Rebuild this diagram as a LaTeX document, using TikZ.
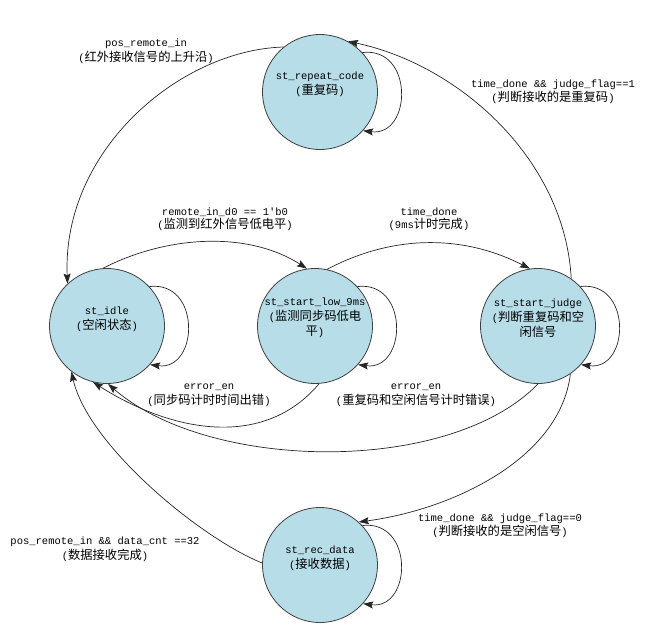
\documentclass[tikz,border=0pt]{standalone}
\usepackage{fontspec}
\setmonofont{Liberation Mono}
\newfontfamily\cjkfont{Noto Sans CJK SC}[Scale=1.17]
\newcommand\myzh[1]{{\cjkfont #1}}
\usetikzlibrary{arrows.meta}
\definecolor{statefill}{RGB}{182,221,232}
\begin{document}
\begin{tikzpicture}[x=1pt,y=-1pt,
  state/.style={circle, draw=black!75, fill=statefill, line width=0.8pt, minimum size=115pt, inner sep=0pt},
  stext/.style={font=\ttfamily\fontsize{10.5}{15}\selectfont, align=center, inner sep=0pt},
  elabel/.style={font=\ttfamily\fontsize{10.5}{14.5}\selectfont, align=center, inner sep=0pt},
  tr/.style={draw=black!85, line width=0.7pt, -{Stealth[length=10pt,width=7pt,inset=1.5pt]}}
]
\useasboundingbox (0,0) rectangle (649,625);

% states
\node[state] (rep) at (320,92) {};
\node[state] (idle) at (107,326) {};
\node[state] (low) at (315,326) {};
\node[state] (judge) at (538,326) {};
\node[state] (rec) at (320,565) {};

\node[stext] (rept) at (320,84.5) {st\_repeat\_code\\(\myzh{重复码})};
\node[stext] (idlet) at (107,319) {st\_idle\\(\myzh{空闲状态})};
\node[stext] (lowt) at (315,318) {st\_start\_low\_9ms\\(\myzh{监测同步码低电}\\\myzh{平})};
\node[stext] (judget) at (538,318) {st\_start\_judge\\(\myzh{判断重复码和空}\\\myzh{闲信号}};
\node[stext] (rect) at (320,558) {st\_rec\_data\\(\myzh{接收数据})};

% transitions
\draw[tr] (rep.129) .. controls (180,50) and (62,150) .. (idle.133);
\draw[tr] (judge.55) .. controls (565,160) and (460,65) .. (rep.61);
\draw[tr] (idle.94) .. controls (170,234) and (250,232) .. (low.98);
\draw[tr] (low.78) .. controls (390,236) and (460,233) .. (judge.98);
\draw[tr] (low.-86) .. controls (265,448) and (175,434) .. (idle.-104);
\draw[tr] (judge.-90) .. controls (450,475) and (210,472) .. (idle.-89);
\draw[tr] (judge.-56) .. controls (560,460) and (450,510) .. (rec.48);
\draw[tr] (rec.178) .. controls (200,538) and (88,445) .. (idle.-128);

% self loops
\foreach \n in {rep,idle,low,judge,rec}
  \draw[tr] (\n.43) .. controls +(52,-6) and +(49,6) .. (\n.-42);

% labels
\node[elabel] (l1) at (146,51.5) {pos\_remote\_in\\(\myzh{红外接收信号的上升沿})};
\node[elabel] (l2) at (553,92) {time\_done \&\& judge\_flag==1\\(\myzh{判断接收的是重复码})};
\node[elabel, font=\ttfamily\fontsize{10.5}{13}\selectfont] (l3) at (225,219) {remote\_in\_d0 == 1'b0\\(\myzh{监测到红外信号低电平})};
\node[elabel, font=\ttfamily\fontsize{10.5}{13}\selectfont] (l4) at (429,219) {time\_done\\(9ms\myzh{计时完成})};
\node[elabel] (l5) at (209,395.5) {error\_en\\(\myzh{同步码计时时间出错})};
\node[elabel] (l6) at (416,395.5) {error\_en\\(\myzh{重复码和空闲信号计时错误})};
\node[elabel] (l7) at (500,526) {time\_done \&\& judge\_flag==0\\(\myzh{判断接收的是空闲信号})};
\node[elabel] (l8) at (105,549.5) {pos\_remote\_in \&\& data\_cnt ==32\\(\myzh{数据接收完成})};
\end{tikzpicture}
\end{document}
